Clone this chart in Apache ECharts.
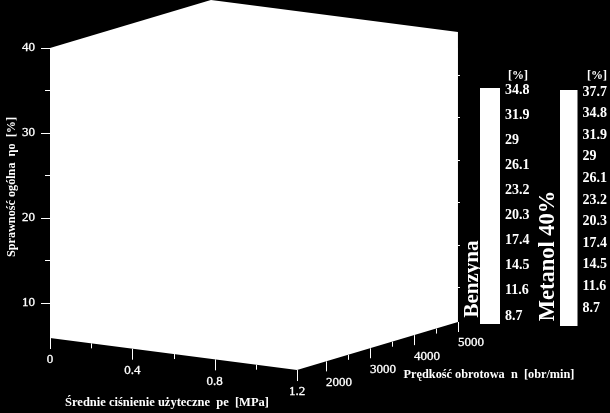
<!DOCTYPE html>
<html><head><meta charset="utf-8">
<style>html,body{margin:0;padding:0;background:#000}#c{width:610px;height:413px}</style>
<script src="https://cdn.jsdelivr.net/npm/echarts@6/dist/echarts.min.js"></script>
</head><body><div id="c"></div>
<script>
// data
const peTicks = [0, 0.2, 0.4, 0.6, 0.8, 1.0, 1.2];
const peLabelled = [0, 0.4, 0.8, 1.2];
const nTicks = [2000, 2500, 3000, 3500, 4000, 4500, 5000];
const nLabelled = [2000, 3000, 4000, 5000];
const wallTicks = [10, 15, 20, 25, 30, 35];
const peRange = [0, 1.2];
const nRange = [1340, 5000];
const etaRange = [5.88, 40];
const benzynaTicks = [8.7, 34.8];
const benzynaBar = [7.78, 35.03];
const metanolTicks = [8.7, 37.7];
const metanolBar = [6.28, 37.97];

const F = 'Liberation Serif';
const W = '#fff';
// oblique projection of the box onto the eta axis plane
function proj(pe, n, eta) {
  const t = (n - nRange[0]) / (nRange[1] - nRange[0]);
  return [pe + t * 0.782, eta + t * 5.65 - pe * 3.14];
}
const [p0, p1] = peRange, [n0, n1] = nRange, [e0, e1] = etaRange;
const outline = [[p0,n0,e1],[p0,n1,e1],[p1,n1,e1],[p1,n1,e0],[p1,n0,e0],[p0,n0,e0]];
const crisp = v => Math.round(v) + 0.5;

const chart = echarts.init(document.getElementById('c'), null, {renderer: 'canvas'});
const hiddenX = (i, min, max) => ({type:'value', gridIndex:i, min, max, show:false});
const legendY = (i, t) => ({
  type:'value', gridIndex:i, position:'right', min:t[0], max:t[1], interval:2.9,
  splitLine:{show:false}, axisLine:{show:false},
  axisTick:{show:true, length:3, lineStyle:{color:W, width:1}},
  axisLabel:{color:W, fontFamily:F, fontWeight:'bold', fontSize:14, margin:5,
    formatter:v => String(+v.toFixed(1))}
});
const legendBar = (i, b) => ({
  type:'custom', xAxisIndex:i, yAxisIndex:i, clip:false, data:[[0, b[0], b[1]]], silent:true,
  renderItem:(p, api) => {
    const a = api.coord([0, api.value(2)]), c = api.coord([1, api.value(1)]);
    return {type:'rect', shape:{x:a[0], y:a[1], width:c[0]-a[0], height:c[1]-a[1]}, style:{fill:W}};
  }
});
function tickItem(a, len, major, v, dx, dy) {
  const x = crisp(a[0]);
  const kids = [{type:'line', shape:{x1:x, y1:a[1], x2:x, y2:a[1]+len}, style:{stroke:W, lineWidth:1}}];
  if (major) kids.push({type:'text', x:a[0]+dx, y:a[1]+dy,
    style:{text:String(v), fill:W, font:`13px "${F}"`, align:'center', verticalAlign:'middle',
      stroke:W, lineWidth:0.3}});
  return {type:'group', children:kids};
}
function text(x, y, t, size, rot) {
  return {type:'text', x, y, rotation: rot ? Math.PI/2 : 0,
    style:{text:t, fill:W, font:`bold ${size}px "${F}"`, align:'center', verticalAlign:'middle'}};
}

chart.setOption({
  backgroundColor:'#000',
  animation:false,
  grid:[
    {left:50, width:247, top:48, height:255},
    {left:480, width:20, top:90, height:226},
    {left:560, width:19, top:92, height:216}
  ],
  xAxis:[hiddenX(0,0,1.2), hiddenX(1,0,1), hiddenX(2,0,1)],
  yAxis:[
    {type:'value', gridIndex:0, min:10, max:40, interval:10,
      splitLine:{show:false}, axisLine:{show:false},
      axisTick:{show:true, length:9, lineStyle:{color:W, width:1}},
      minorTick:{show:true, splitNumber:2, length:5, lineStyle:{color:W, width:1}},
      minorSplitLine:{show:false},
      axisLabel:{color:W, fontFamily:F, fontSize:13, margin:15, textBorderColor:W, textBorderWidth:0.3}},
    legendY(1, benzynaTicks),
    legendY(2, metanolTicks)
  ],
  series:[
    {type:'custom', xAxisIndex:0, yAxisIndex:0, clip:false, silent:true, data:[[0,0]],
      renderItem:(p, api) => ({type:'polygon',
        shape:{points:outline.map(o => api.coord(proj(o[0], o[1], o[2])))}, style:{fill:W}})},
    {type:'custom', xAxisIndex:0, yAxisIndex:0, clip:false, silent:true,
      data:peTicks.map(v => [v]),
      renderItem:(p, api) => {
        const v = api.value(0), major = peLabelled.includes(v);
        return tickItem(api.coord(proj(v, n0, e0)), major ? 11 : 5, major, v, 0, 22);
      }},
    {type:'custom', xAxisIndex:0, yAxisIndex:0, clip:false, silent:true,
      data:nTicks.map(v => [v]),
      renderItem:(p, api) => {
        const v = api.value(0), major = nLabelled.includes(v);
        return tickItem(api.coord(proj(p1, v, e0)), major ? 10 : 5, major, v, 13, 21);
      }},
    {type:'custom', xAxisIndex:0, yAxisIndex:0, clip:false, silent:true,
      data:wallTicks.map(v => [v]),
      renderItem:(p, api) => {
        const a = api.coord(proj(p1, n1, api.value(0)));
        const y = crisp(a[1]);
        return {type:'line', shape:{x1:a[0], y1:y, x2:a[0]+2, y2:y}, style:{stroke:W, lineWidth:1}};
      }},
    legendBar(1, benzynaBar),
    legendBar(2, metanolBar)
  ],
  graphic:[
    text(12, 187, 'Sprawność ogólna  ηo  [%]', 12.2, true),
    text(167, 403, 'Średnie ciśnienie użyteczne  pe  [MPa]', 12.5),
    text(489, 375, 'Prędkość obrotowa  n  [obr/min]', 12.3),
    text(518, 76, '[%]', 12),
    text(597, 76, '[%]', 12),
    text(473, 279, 'Benzyna', 21, true),
    text(548, 256, 'Metanol 40%', 22.5, true)
  ]
});
</script></body></html>
